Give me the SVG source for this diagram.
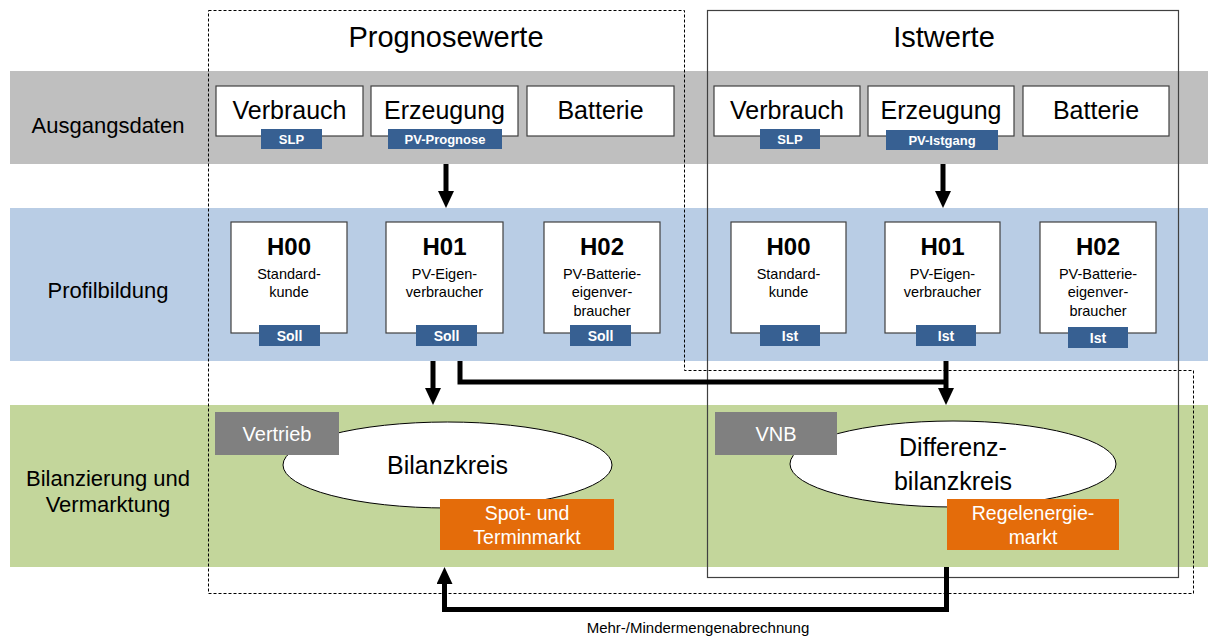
<svg xmlns="http://www.w3.org/2000/svg" width="1208" height="637" viewBox="0 0 1208 637">
<style>
text{font-family:"Liberation Sans",Arial,sans-serif;fill:#000;text-anchor:middle}
.box{fill:#fff;stroke:#404040;stroke-width:1.2}
.tag{fill:#376092}
.tagt{fill:#fff;font-weight:bold;font-size:13px}
.tagt2{fill:#fff;font-weight:bold;font-size:14px}
.big{font-size:25px}
.title{font-size:29px}
.row{font-size:22px}
.h{font-weight:bold;font-size:24px}
.sub{font-size:14.5px}
.gray{fill:#808080}
.org{fill:#e46c0a}
.wt{fill:#fff;font-size:19.5px}
.ell{fill:#fff;stroke:#000;stroke-width:1}
.arr{fill:none;stroke:#000;stroke-width:5}
</style>
<defs>
<marker id="ah" markerUnits="userSpaceOnUse" markerWidth="17" markerHeight="16" refX="4" refY="8" orient="auto">
<path d="M0,0 L17,8 L0,16 z" fill="#000"/>
</marker>
</defs>
<rect width="1208" height="637" fill="#fff"/>
<g id="bands">
<rect x="10" y="71" width="1198" height="93" fill="#bfbfbf"/>
<rect x="10" y="208" width="1198" height="153" fill="#b9cde5"/>
<rect x="10" y="405" width="1198" height="162" fill="#c3d69b"/>
</g>
<g id="row-labels">
<text class="row" x="108" y="133">Ausgangsdaten</text>
<text class="row" x="108" y="298">Profilbildung</text>
<text class="row" x="108" y="486">Bilanzierung und</text>
<text class="row" x="108" y="512">Vermarktung</text>
</g>
<g id="frames">
<path d="M208.5,10.5 H684.5 V370.5 H1193.5 V593.5 H208.5 Z" fill="none" stroke="#000" stroke-width="1" stroke-dasharray="3,2"/>
<rect x="707.5" y="10.5" width="471" height="567" fill="none" stroke="#404040" stroke-width="1.2"/>
<text class="title" x="446" y="47">Prognosewerte</text>
<text class="title" x="944" y="47">Istwerte</text>
</g>
<g id="in-verbrauch-p">
<rect class="box" x="216" y="86" width="147" height="50"/>
<text class="big" x="289.5" y="119">Verbrauch</text>
<rect class="tag" x="261" y="129" width="61" height="20"/>
<text class="tagt" x="291.5" y="144">SLP</text>
</g>
<g id="in-erzeugung-p">
<rect class="box" x="371" y="86" width="147" height="50"/>
<text class="big" x="444.5" y="119">Erzeugung</text>
<rect class="tag" x="388" y="129" width="114" height="20"/>
<text class="tagt" x="445" y="144">PV-Prognose</text>
</g>
<g id="in-batterie-p">
<rect class="box" x="527" y="86" width="147" height="50"/>
<text class="big" x="600.5" y="119">Batterie</text>
</g>
<g id="in-verbrauch-i">
<rect class="box" x="714" y="86" width="146" height="50"/>
<text class="big" x="787" y="119">Verbrauch</text>
<rect class="tag" x="760" y="129" width="60" height="20"/>
<text class="tagt" x="790" y="144">SLP</text>
</g>
<g id="in-erzeugung-i">
<rect class="box" x="868" y="86" width="146" height="50"/>
<text class="big" x="941" y="119">Erzeugung</text>
<rect class="tag" x="886" y="130" width="112" height="20"/>
<text class="tagt" x="942" y="145">PV-Istgang</text>
</g>
<g id="in-batterie-i">
<rect class="box" x="1023" y="86" width="146" height="50"/>
<text class="big" x="1096" y="119">Batterie</text>
</g>
<g id="h00-p">
<rect class="box" x="231" y="222" width="116" height="111"/>
<text class="h" x="289" y="255">H00</text>
<text class="sub" x="289" y="279">Standard-</text>
<text class="sub" x="289" y="297">kunde</text>
<rect class="tag" x="259" y="325" width="61" height="21"/>
<text class="tagt2" x="289.5" y="341">Soll</text>
</g>
<g id="h01-p">
<rect class="box" x="386" y="222" width="117" height="111"/>
<text class="h" x="444.5" y="255">H01</text>
<text class="sub" x="444.5" y="279">PV-Eigen-</text>
<text class="sub" x="444.5" y="297">verbraucher</text>
<rect class="tag" x="416" y="325" width="61" height="21"/>
<text class="tagt2" x="446.5" y="341">Soll</text>
</g>
<g id="h02-p">
<rect class="box" x="544" y="222" width="116" height="111"/>
<text class="h" x="602" y="255">H02</text>
<text class="sub" x="602" y="279">PV-Batterie-</text>
<text class="sub" x="602" y="297">eigenver-</text>
<text class="sub" x="602" y="316">braucher</text>
<rect class="tag" x="570" y="325" width="61" height="21"/>
<text class="tagt2" x="600.5" y="341">Soll</text>
</g>
<g id="h00-i">
<rect class="box" x="731" y="222" width="115" height="111"/>
<text class="h" x="788.5" y="255">H00</text>
<text class="sub" x="788.5" y="279">Standard-</text>
<text class="sub" x="788.5" y="297">kunde</text>
<rect class="tag" x="760" y="325" width="60" height="21"/>
<text class="tagt2" x="790" y="341">Ist</text>
</g>
<g id="h01-i">
<rect class="box" x="885" y="222" width="115" height="111"/>
<text class="h" x="942.5" y="255">H01</text>
<text class="sub" x="942.5" y="279">PV-Eigen-</text>
<text class="sub" x="942.5" y="297">verbraucher</text>
<rect class="tag" x="916" y="325" width="60" height="21"/>
<text class="tagt2" x="946" y="341">Ist</text>
</g>
<g id="h02-i">
<rect class="box" x="1040" y="222" width="116" height="111"/>
<text class="h" x="1098" y="255">H02</text>
<text class="sub" x="1098" y="279">PV-Batterie-</text>
<text class="sub" x="1098" y="297">eigenver-</text>
<text class="sub" x="1098" y="316">braucher</text>
<rect class="tag" x="1068" y="327" width="60" height="21"/>
<text class="tagt2" x="1098" y="343">Ist</text>
</g>
<g id="bilanzkreis">
<ellipse class="ell" cx="447.5" cy="465" rx="164.5" ry="43"/>
<text class="big" x="447.5" y="474">Bilanzkreis</text>
</g>
<g id="vertrieb">
<rect class="gray" x="215" y="412" width="124" height="43"/>
<text class="wt" x="277" y="441" style="font-size:20px">Vertrieb</text>
</g>
<g id="spotmarkt">
<rect class="org" x="440" y="499" width="174" height="51"/>
<text class="wt" x="527" y="520">Spot- und</text>
<text class="wt" x="527" y="544">Terminmarkt</text>
</g>
<g id="differenzbilanzkreis">
<ellipse class="ell" cx="953" cy="464" rx="163" ry="43"/>
<text class="big" x="953" y="456">Differenz-</text>
<text class="big" x="953" y="490">bilanzkreis</text>
</g>
<g id="vnb">
<rect class="gray" x="715" y="412" width="122" height="43"/>
<text class="wt" x="776" y="441" style="font-size:20px">VNB</text>
</g>
<g id="regelenergiemarkt">
<rect class="org" x="947" y="499" width="172" height="51"/>
<text class="wt" x="1033" y="520">Regelenergie-</text>
<text class="wt" x="1033" y="544">markt</text>
</g>
<g id="connectors">
<path class="arr" d="M446,164 V195" marker-end="url(#ah)"/>
<path class="arr" d="M943,164 V195" marker-end="url(#ah)"/>
<path class="arr" d="M433,361 V392" marker-end="url(#ah)"/>
<path class="arr" d="M460,361 V382 H946"/>
<path class="arr" d="M946,361 V392" marker-end="url(#ah)"/>
<path class="arr" d="M946.5,567 V609.5 H444.5 V580" marker-end="url(#ah)"/>
<text x="698" y="633" style="font-size:15px">Mehr-/Mindermengenabrechnung</text>
</g>
</svg>
